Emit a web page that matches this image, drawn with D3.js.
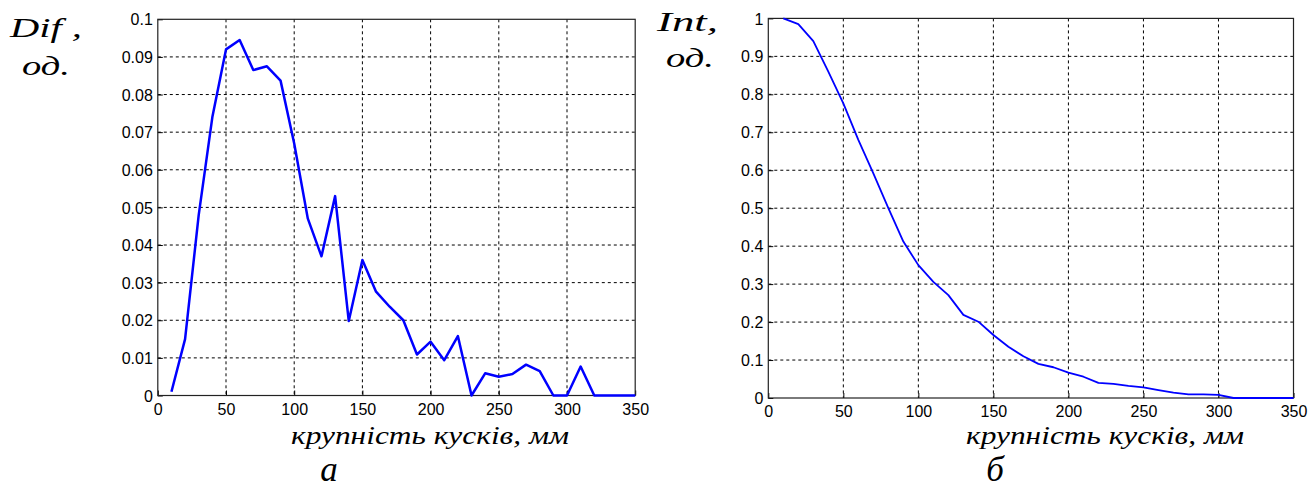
<!DOCTYPE html>
<html>
<head>
<meta charset="utf-8">
<script src="https://cdn.jsdelivr.net/npm/d3@7"></script>
<style>
  html, body { margin: 0; padding: 0; background: #fff; }
  svg { display: block; }
  .tick-label { font-family: "Liberation Sans", Arial, sans-serif; font-size: 16px; fill: #000; }
  .ital { font-family: "Liberation Serif", "Times New Roman", serif; font-style: italic; fill: #000; }
</style>
</head>
<body>
<svg id="chart" width="1310" height="497"></svg>
<script>
// Particle size, mm
const sizes = [10, 20, 30, 40, 50, 60, 70, 80, 90, 100, 110, 120, 130, 140, 150, 160, 170, 180,
               190, 200, 210, 220, 230, 240, 250, 260, 270, 280, 290, 300, 310, 320, 330, 340, 350];

// Differential size distribution (fraction)
const difValues = [0.001, 0.015, 0.048, 0.074, 0.092, 0.0945, 0.0865, 0.0875, 0.0837, 0.067,
                   0.047, 0.037, 0.053, 0.0198, 0.036, 0.0276, 0.0236, 0.020, 0.0109, 0.0143,
                   0.0094, 0.0158, 0, 0.0059, 0.0050, 0.0057, 0.0082, 0.0065, 0, 0,
                   0.0077, 0, 0, 0, 0];

// Integral (cumulative residue) distribution (fraction)
const intValues = [1.0, 0.985, 0.94, 0.86, 0.776, 0.68, 0.592, 0.50, 0.412, 0.35,
                   0.306, 0.271, 0.219, 0.201, 0.166, 0.135, 0.11, 0.09, 0.081, 0.067,
                   0.056, 0.04, 0.037, 0.032, 0.028, 0.021, 0.014, 0.0097, 0.0097, 0.008,
                   0, 0, 0, 0, 0];

const xTicks = [0, 50, 100, 150, 200, 250, 300, 350];
const difTicks = [0, 0.01, 0.02, 0.03, 0.04, 0.05, 0.06, 0.07, 0.08, 0.09, 0.1];
const difTickLabels = ["0", "0.01", "0.02", "0.03", "0.04", "0.05", "0.06", "0.07", "0.08", "0.09", "0.1"];
const intTicks = [0, 0.1, 0.2, 0.3, 0.4, 0.5, 0.6, 0.7, 0.8, 0.9, 1];
const intTickLabels = ["0", "0.1", "0.2", "0.3", "0.4", "0.5", "0.6", "0.7", "0.8", "0.9", "1"];

const xTitle = "крупність кусків, мм";

const svg = d3.select("#chart");

function drawPanel(cfg) {
  const x = d3.scaleLinear().domain([0, 350]).range([cfg.left, cfg.right]);
  const y = d3.scaleLinear().domain(cfg.yDomain).range([cfg.bottom, cfg.top]);
  const g = svg.append("g");

  // dashed grid
  g.append("g").selectAll("line").data(xTicks.slice(1, -1)).join("line")
    .attr("x1", d => x(d)).attr("x2", d => x(d))
    .attr("y1", cfg.top).attr("y2", cfg.bottom)
    .attr("stroke", "#000").attr("stroke-width", 1).attr("stroke-dasharray", "3,3");
  g.append("g").selectAll("line").data(cfg.yTicks.slice(1, -1)).join("line")
    .attr("x1", cfg.left).attr("x2", cfg.right)
    .attr("y1", d => y(d)).attr("y2", d => y(d))
    .attr("stroke", "#000").attr("stroke-width", 1).attr("stroke-dasharray", "3,3");

  // axes with inward ticks
  const xAxis = d3.axisBottom(x).tickValues(xTicks).tickSizeInner(-5).tickSizeOuter(0).tickFormat(d3.format("d"));
  const yAxis = d3.axisLeft(y).tickValues(cfg.yTicks).tickSizeInner(-5).tickSizeOuter(0)
    .tickFormat((d, i) => cfg.yLabels[i]);

  const gx = g.append("g").attr("transform", `translate(0,${cfg.bottom})`).call(xAxis);
  gx.select(".domain").remove();
  gx.selectAll("text").attr("class", "tick-label").attr("y", 8).attr("dy", "0.71em");
  gx.selectAll("line").attr("stroke", "#000");

  const gy = g.append("g").attr("transform", `translate(${cfg.left},0)`).call(yAxis);
  gy.select(".domain").remove();
  gy.selectAll("text").attr("class", "tick-label").attr("x", -5).attr("dy", "0.35em");
  gy.selectAll("line").attr("stroke", "#000");

  // frame
  g.append("rect")
    .attr("x", cfg.left).attr("y", cfg.top)
    .attr("width", cfg.right - cfg.left).attr("height", cfg.bottom - cfg.top)
    .attr("fill", "none").attr("stroke", "#222").attr("stroke-width", 1.2);

  // data line
  const line = d3.line().x((d, i) => x(sizes[i])).y(d => y(d));
  g.append("path").datum(cfg.values)
    .attr("d", line)
    .attr("fill", "none").attr("stroke", "#0000ff")
    .attr("stroke-width", cfg.lineWidth).attr("stroke-linejoin", "round");

  // y-axis name
  g.append("text").attr("class", "ital")
    .attr("x", cfg.nameX).attr("y", cfg.nameY)
    .attr("font-size", 27).attr("textLength", cfg.nameLen).attr("lengthAdjust", "spacingAndGlyphs")
    .text(cfg.name);
  g.append("text").attr("class", "ital")
    .attr("x", cfg.unitX).attr("y", cfg.unitY)
    .attr("font-size", 27).attr("textLength", 48).attr("lengthAdjust", "spacingAndGlyphs")
    .text("од.");

  // x-axis name
  g.append("text").attr("class", "ital")
    .attr("x", cfg.titleX).attr("y", 443.5)
    .attr("font-size", 26).attr("textLength", 278).attr("lengthAdjust", "spacingAndGlyphs")
    .text(xTitle);

  // panel letter
  g.append("text").attr("class", "ital")
    .attr("x", cfg.letterX).attr("y", 481)
    .attr("font-size", 35).attr("text-anchor", "middle")
    .text(cfg.letter);
}

drawPanel({
  left: 157.8, right: 635.2, top: 19.3, bottom: 395.5,
  yDomain: [0, 0.1], yTicks: difTicks, yLabels: difTickLabels,
  values: difValues, lineWidth: 2.5,
  name: "Dif ,", nameX: 10, nameY: 37, nameLen: 72,
  unitX: 22, unitY: 75,
  titleX: 291, letter: "а", letterX: 329
});

drawPanel({
  left: 768.3, right: 1293.5, top: 18.4, bottom: 398,
  yDomain: [0, 1], yTicks: intTicks, yLabels: intTickLabels,
  values: intValues, lineWidth: 1.8,
  name: "Int,", nameX: 657, nameY: 31, nameLen: 61,
  unitX: 666, unitY: 67,
  titleX: 966, letter: "б", letterX: 995
});
</script>
</body>
</html>
